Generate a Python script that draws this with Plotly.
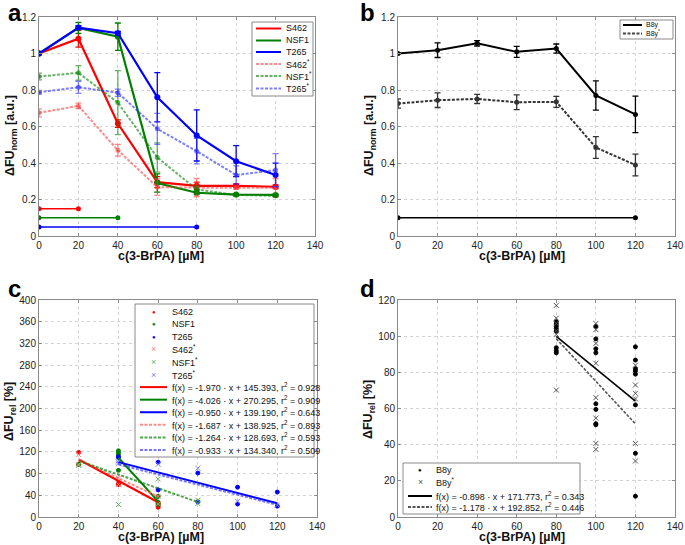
import plotly.graph_objects as go

W, H = 685, 545

# ---------------- data ----------------
conc = [0, 20, 40, 60, 80, 100, 120]

# panel a
s462 = [1.000, 1.081, 0.616, 0.295, 0.275, 0.275, 0.270]
s462_err = [0, 0.046, 0.020, 0.030, 0.020, 0.010, 0.010]
nsf1 = [1.000, 1.140, 1.092, 0.290, 0.237, 0.227, 0.225]
nsf1_err = [0, 0.030, 0.075, 0.050, 0.010, 0.005, 0.005]
t265 = [1.000, 1.142, 1.111, 0.760, 0.551, 0.410, 0.334]
t265_err = [0, 0.010, 0.010, 0.135, 0.140, 0.085, 0.065]
s462s = [0.675, 0.713, 0.470, 0.268, 0.265, 0.265, 0.265]
s462s_err = [0.022, 0.015, 0.032, 0.045, 0.050, 0.010, 0.050]
nsf1s = [0.874, 0.894, 0.731, 0.430, 0.255, 0.225, 0.220]
nsf1s_err = [0.018, 0.040, 0.175, 0.080, 0.020, 0.005, 0.005]
t265s = [0.788, 0.815, 0.785, 0.587, 0.465, 0.334, 0.361]
t265s_err = [0.010, 0.033, 0.020, 0.085, 0.070, 0.050, 0.090]
base_s462_x, base_s462_y = [0, 20], [0.15, 0.15]
base_nsf1_x, base_nsf1_y = [0, 40], [0.10, 0.10]
base_t265_x, base_t265_y = [0, 80], [0.05, 0.05]

# panel b
b8y = [1.000, 1.018, 1.056, 1.009, 1.027, 0.770, 0.666]
b8y_err = [0, 0.040, 0.015, 0.030, 0.025, 0.080, 0.100]
b8ys = [0.726, 0.744, 0.751, 0.733, 0.735, 0.485, 0.389]
b8ys_err = [0.025, 0.040, 0.025, 0.040, 0.030, 0.060, 0.060]
base_b8y_x, base_b8y_y = [0, 120], [0.10, 0.10]

# panel c (single measurements, %)
c_s462_x = [20, 20, 40, 40, 60, 60, 60]
c_s462_y = [119, 97, 63, 60, 21, 18, 25]
c_nsf1_x = [20, 40, 40, 40, 40, 60, 60, 60]
c_nsf1_y = [97, 122, 119, 115, 86, 38, 27, 23]
c_t265_x = [40, 40, 60, 60, 80, 80, 100, 100, 120, 120]
c_t265_y = [111, 109, 101, 50, 81, 28, 55, 24, 46, 20]
c_s462s_x = [20, 20, 40, 40, 60, 60]
c_s462s_y = [115, 97, 72, 60, 38, 24]
c_nsf1s_x = [20, 40, 60, 80, 80]
c_nsf1s_y = [95, 23, 70, 31, 25]
c_t265s_x = [40, 40, 40, 60, 80, 100, 120]
c_t265s_y = [104, 101, 98, 97, 90, 29, 22]
# linear fits: name, slope, intercept, r2, x-range
fits_c = [
    ("S462", -1.970, 145.393, 0.928, 20, 60),
    ("NSF1", -4.026, 270.295, 0.909, 40, 60),
    ("T265", -0.950, 139.190, 0.643, 40, 120),
    ("S462*", -1.687, 138.925, 0.893, 20, 60),
    ("NSF1*", -1.264, 128.693, 0.593, 20, 80),
    ("T265*", -0.933, 134.340, 0.509, 40, 120),
]

# panel d
d_b8y_x = [80] * 8 + [100] * 8 + [120] * 8
d_b8y_y = [108, 106.7, 105.4, 104, 102.7, 93.6, 92, 90.8,
           105.4, 98.5, 93, 90.8, 62.6, 59.5, 51.6, 51,
           94.1, 86.8, 82, 80.8, 79, 62, 35.2, 11.5]
d_b8ys_x = [80] * 6 + [100] * 8 + [120] * 6
d_b8ys_y = [117, 110, 107, 103, 101, 70.2,
            107, 103.6, 96, 85, 66, 54.7, 40.7, 37.4,
            83.9, 73, 68.4, 65.3, 40.7, 31]
fits_d = [
    ("B8y", -0.898, 171.773, 0.343, 80, 120),
    ("B8y*", -1.178, 192.852, 0.446, 80, 120),
]

# ---------------- styling ----------------
RED, GREEN, BLUE = "#ff0000", "#008000", "#0000ff"
LRED, LGREEN, LBLUE = "rgba(255,60,60,0.6)", "rgba(0,128,0,0.6)", "rgba(40,40,255,0.6)"
DOT = "3px,1.5px"
FONT = "Liberation Sans, Arial, sans-serif"

fig = go.Figure()


def series(x, y, err, color, dash, xa, ya, width=2.2, msize=6):
    fig.add_trace(go.Scatter(
        x=x, y=y, mode="lines+markers", xaxis=xa, yaxis=ya,
        line=dict(color=color, width=width, dash=dash),
        marker=dict(color=color, size=msize, symbol="circle"),
        error_y=dict(type="data", array=err, color=color, thickness=1.3, width=3) if err else None,
        showlegend=False))


# panel a
series(conc, s462, s462_err, RED, "solid", "x", "y")
series(conc, nsf1, nsf1_err, GREEN, "solid", "x", "y")
series(conc, t265, t265_err, BLUE, "solid", "x", "y")
series(conc, s462s, s462s_err, LRED, DOT, "x", "y", 2, 5)
series(conc, nsf1s, nsf1s_err, LGREEN, DOT, "x", "y", 2, 5)
series(conc, t265s, t265s_err, LBLUE, DOT, "x", "y", 2, 5)
series(base_s462_x, base_s462_y, None, RED, "solid", "x", "y", 1.5, 5)
series(base_nsf1_x, base_nsf1_y, None, GREEN, "solid", "x", "y", 1.5, 5)
series(base_t265_x, base_t265_y, None, BLUE, "solid", "x", "y", 1.5, 5)

# panel b
series(conc, b8y, b8y_err, "#000000", "solid", "x2", "y2", 2, 5)
series(conc, b8ys, b8ys_err, "#333333", DOT, "x2", "y2", 2, 5)
series(base_b8y_x, base_b8y_y, None, "#000000", "solid", "x2", "y2", 1.5, 5)


def points(x, y, color, symbol, xa, ya, size=4):
    fig.add_trace(go.Scatter(
        x=x, y=y, mode="markers", xaxis=xa, yaxis=ya,
        marker=dict(color=color, size=size, symbol=symbol,
                    line=dict(color=color, width=1)),
        showlegend=False))


def fit_line(a, b, x0, x1, color, dash, xa, ya, width=2):
    xs = [x0, x1]
    fig.add_trace(go.Scatter(
        x=xs, y=[a * v + b for v in xs], mode="lines", xaxis=xa, yaxis=ya,
        line=dict(color=color, width=width, dash=dash), showlegend=False))


# panel c
points(c_s462_x, c_s462_y, RED, "circle", "x3", "y3")
points(c_nsf1_x, c_nsf1_y, GREEN, "circle", "x3", "y3")
points(c_t265_x, c_t265_y, BLUE, "circle", "x3", "y3")
points(c_s462s_x, c_s462s_y, "#ff8080", "x-thin-open", "x3", "y3", 5)
points(c_nsf1s_x, c_nsf1s_y, "#66b366", "x-thin-open", "x3", "y3", 5)
points(c_t265s_x, c_t265s_y, "#8080ff", "x-thin-open", "x3", "y3", 5)
fit_colors_c = [(RED, "solid"), (GREEN, "solid"), (BLUE, "solid"),
                ("rgba(255,90,90,0.7)", DOT), ("rgba(0,128,0,0.7)", DOT), ("rgba(60,60,255,0.7)", DOT)]
for (name, a, b, r2, x0, x1), (col, dsh) in zip(fits_c, fit_colors_c):
    fit_line(a, b, x0, x1, col, dsh, "x3", "y3")

# panel d
points(d_b8y_x, d_b8y_y, "#000000", "circle", "x4", "y4")
points(d_b8ys_x, d_b8ys_y, "#555555", "x-thin-open", "x4", "y4", 5)
fit_colors_d = [("#000000", "solid"), ("#555555", DOT)]
for (name, a, b, r2, x0, x1), (col, dsh) in zip(fits_d, fit_colors_d):
    fit_line(a, b, x0, x1, col, dsh, "x4", "y4", 1.6)


# ---------------- axes ----------------
def px(v):
    return v / W


def py(v):
    return 1 - v / H


def axis(domain, rng, dtick, anchor):
    return dict(domain=domain, range=rng, dtick=dtick, tick0=0, anchor=anchor,
                showgrid=True, gridcolor="#d4d4d4", griddash="dot", gridwidth=1,
                showline=True, linecolor="#8a8a8a", linewidth=1, mirror="ticks",
                ticks="inside", ticklen=3, tickcolor="#8a8a8a", zeroline=False,
                automargin=False,
                tickfont=dict(family=FONT, size=10, color="#222222"))


XT = "<b>c(3-BrPA) [µM]</b>"
YA = "<b>ΔFU<sub>norm</sub> [a.u.]</b>"
YC = "<b>ΔFU<sub>rel</sub> [%]</b>"
dom_ax = [px(39), px(315)]
dom_bx = [px(398), px(675)]
dom_cx = [px(39), px(317)]
dom_top = [py(236), py(17)]
dom_bot = [py(517), py(300)]

fig.update_layout(
    width=W, height=H, template="none",
    margin=dict(l=0, r=0, t=0, b=0),
    paper_bgcolor="white", plot_bgcolor="white",
    font=dict(family=FONT),
    showlegend=False,
    xaxis=axis(dom_ax, [0, 140], 20, "y"),
    yaxis=axis(dom_top, [0, 1.2], 0.2, "x"),
    xaxis2=axis(dom_bx, [0, 140], 20, "y2"),
    yaxis2=axis(dom_top, [0, 1.2], 0.2, "x2"),
    xaxis3=axis(dom_cx, [0, 140], 20, "y3"),
    yaxis3=axis(dom_bot, [0, 400], 40, "x3"),
    xaxis4=axis(dom_bx, [0, 140], 20, "y4"),
    yaxis4=axis(dom_bot, [0, 120], 20, "x4"),
)


def label(text, x, y, size, angle=0):
    fig.add_annotation(text=text, x=px(x), y=py(y), xref="paper", yref="paper",
                       xanchor="center", yanchor="middle", showarrow=False, textangle=angle,
                       borderpad=0,
                       font=dict(family=FONT, size=size, color="#111111"))


# axis titles
for xc, yc in [(161, 256), (522, 256), (161, 536.5), (522, 536.5)]:
    label(XT, xc, yc, 12.5)
label(YA, 11, 136, 12.5, -90)
label(YA, 370, 136, 12.5, -90)
label(YC, 10, 412, 12.5, -90)
label(YC, 369, 410, 12.5, -90)

# panel letters
for letter, lx, ly in [("a", 6, 13), ("b", 358, 13), ("c", 6, 288), ("d", 358, 288)]:
    fig.add_annotation(text=f"<b>{letter}</b>", x=px(lx), y=py(ly), xref="paper", yref="paper",
                       xanchor="left", yanchor="middle", showarrow=False,
                       font=dict(family=FONT, size=24, color="#000000"))


# ---------------- legends (drawn as boxes with text) ----------------
def legend(box, sx0, sx1, tx, entries, fsize):
    x0, y0, x1, y1 = box
    fig.add_shape(type="rect", xref="paper", yref="paper",
                  x0=px(x0), x1=px(x1), y0=py(y0), y1=py(y1),
                  line=dict(color="#8a8a8a", width=1), fillcolor="white", layer="above")
    for kind, color, dash, text, cy in entries:
        if kind == "line":
            fig.add_shape(type="line", xref="paper", yref="paper",
                          x0=px(sx0), x1=px(sx1), y0=py(cy), y1=py(cy),
                          line=dict(color=color, width=2, dash=dash), layer="above")
        else:
            sym = "●" if kind == "dot" else "×"
            fig.add_annotation(text=sym, x=px((sx0 + sx1) / 2), y=py(cy), xref="paper", yref="paper",
                               showarrow=False, xanchor="center", yanchor="middle",
                               font=dict(family=FONT, size=6 if kind == "dot" else 9, color=color))
        fig.add_annotation(text=text, x=px(tx), y=py(cy), xref="paper", yref="paper",
                           showarrow=False, xanchor="left", yanchor="middle",
                           font=dict(family=FONT, size=fsize, color="#111111"))


legend((252, 22, 313, 96), 256, 281, 284,
       [("line", RED, "solid", "S462", 28.5),
        ("line", GREEN, "solid", "NSF1", 40.5),
        ("line", BLUE, "solid", "T265", 52),
        ("line", LRED, DOT, "S462<sup>*</sup>", 64),
        ("line", LGREEN, DOT, "NSF1<sup>*</sup>", 76),
        ("line", LBLUE, DOT, "T265<sup>*</sup>", 88.5)], 9)

legend((620, 20, 673, 39), 623, 642, 644,
       [("line", "#000000", "solid", "B8y", 25),
        ("line", "#444444", DOT, "B8y<sup>*</sup>", 33.5)], 7)


def fit_label(a, b, r2):
    return f"f(x) = {a:.3f} · x + {b:.3f}, r<sup>2</sup> = {r2:.3f}"


c_entries = [("dot", RED, None, "S462", 311.7),
             ("dot", GREEN, None, "NSF1", 324.3),
             ("dot", BLUE, None, "T265", 336.8),
             ("x", "#ff8080", None, "S462<sup>*</sup>", 349.4),
             ("x", "#66b366", None, "NSF1<sup>*</sup>", 362),
             ("x", "#8080ff", None, "T265<sup>*</sup>", 374.6)]
for i, ((name, a, b, r2, x0, x1), (col, dsh)) in enumerate(zip(fits_c, fit_colors_c)):
    c_entries.append(("line", col, dsh, fit_label(a, b, r2), 387.1 + 12.57 * i))
legend((135, 304, 314, 457), 140, 167, 170, c_entries, 9)

d_entries = [("dot", "#000000", None, "B8y", 470),
             ("x", "#555555", None, "B8y<sup>*</sup>", 481.5)]
for i, ((name, a, b, r2, x0, x1), (col, dsh)) in enumerate(zip(fits_d, fit_colors_d)):
    d_entries.append(("line", col, dsh, fit_label(a, b, r2), 496 + 11 * i))
legend((403, 463, 580, 514), 408, 432, 434, d_entries, 9)

fig.write_html("out.html", config={"displayModeBar": False},
               post_script="document.body.style.margin='0';document.body.style.padding='0';")
